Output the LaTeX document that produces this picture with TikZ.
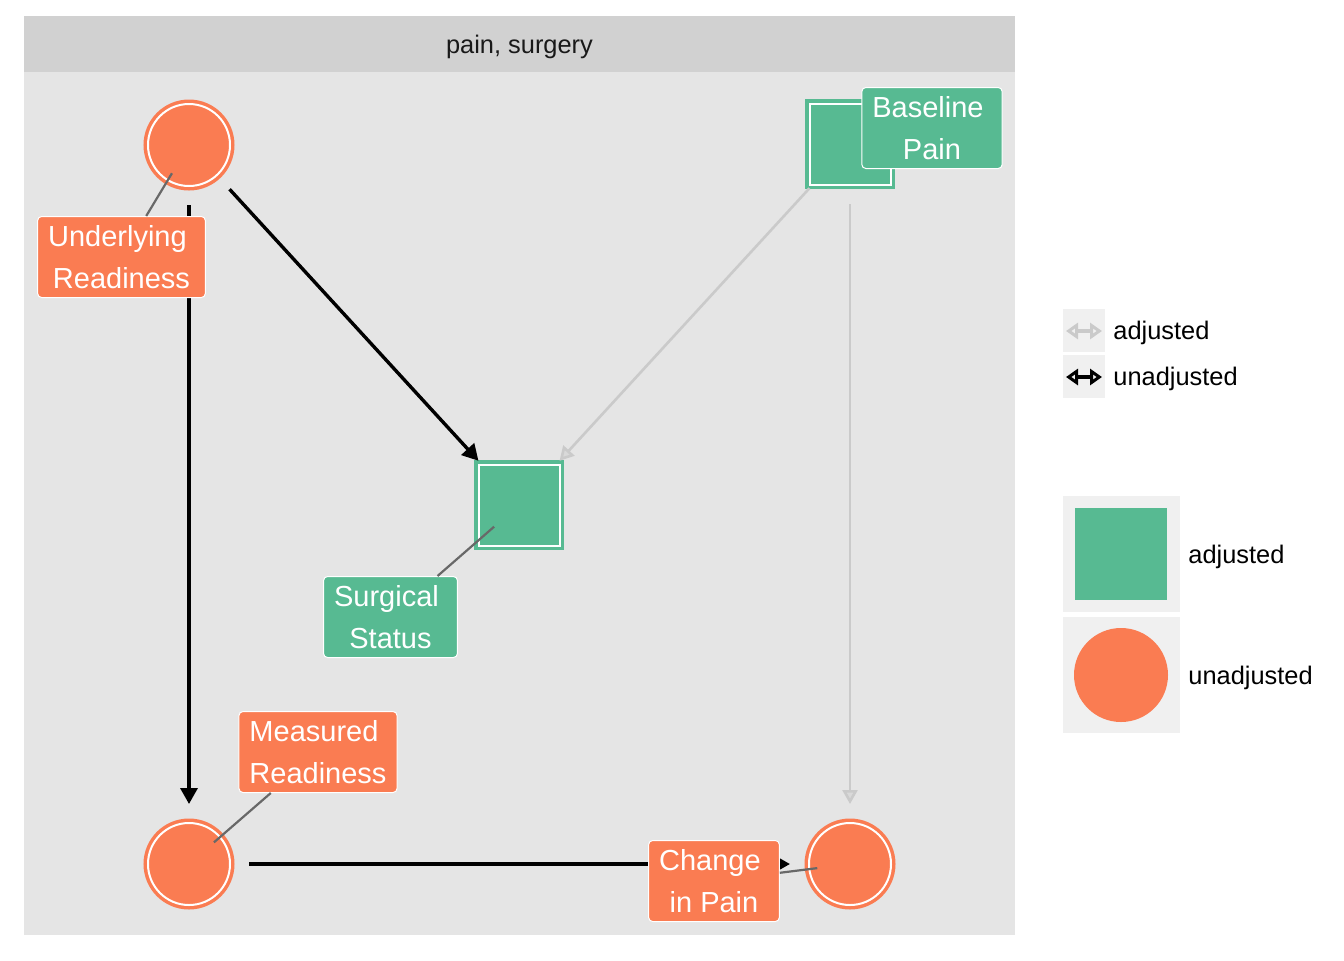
\documentclass[tikz,border=0pt]{standalone}
\usepackage{fontspec}
\setmainfont{Liberation Sans}
\usepackage{tikz}
\usetikzlibrary{arrows.meta}

\definecolor{dagorange}{HTML}{FA7C52}
\definecolor{daggreen}{HTML}{57BA92}
\definecolor{panelgray}{HTML}{E5E5E5}
\definecolor{stripgray}{HTML}{D1D1D1}
\definecolor{keygray}{HTML}{F0F0F0}
\definecolor{adjline}{HTML}{CACACA}
\definecolor{adjtip}{HTML}{D9D9D9}
\definecolor{leadgray}{HTML}{686868}

\tikzset{
  unadjnode/.style={circle, minimum size=41pt, inner sep=0pt, fill=dagorange, draw=white, line width=1pt,
    preaction={draw=dagorange, line width=4.5pt}},
  adjnode/.style={rectangle, minimum size=40.5pt, inner sep=0pt, fill=daggreen, draw=white, line width=1pt,
    preaction={draw=daggreen, line width=4.5pt}},
  unadjedge/.style={black, line width=1.7pt, shorten >=30pt, shorten <=30pt,
    -{Triangle[length=8pt,width=8.5pt]}},
  adjedge/.style={adjline, line width=1.3pt, shorten >=30pt, shorten <=30pt,
    -{Triangle[length=7pt,width=7.5pt,fill=adjtip]}},
  daglabel/.style={rounded corners=2pt, draw=white, line width=0.5pt, text=white, align=center,
    inner xsep=5.25pt, inner ysep=2pt, minimum height=40.5pt, font=\fontsize{14.5}{21}\selectfont},
  leader/.style={leadgray, line width=1.1pt, shorten >=16.5pt},
  legtext/.style={anchor=west, inner sep=0pt, font=\fontsize{12.7}{15}\selectfont},
  legarrow/.style={line width=1.6pt, {Triangle[open,length=6pt,width=8pt]}-{Triangle[open,length=6pt,width=8pt]}}
}

\begin{document}
\begin{tikzpicture}[x=0.5pt,y=-0.5pt]
  \useasboundingbox (0,0) rectangle (1344,960);
  % panel and strip
  \fill[panelgray] (24,72) rectangle (1015,935);
  \fill[stripgray] (24,16) rectangle (1015,72);
  \node[inner sep=0pt, text={black!90}, font=\fontsize{12.7}{15}\selectfont] (strip) at (519.5,47) {pain, surgery};

  % nodes
  \node[unadjnode] (ur) at (189,145) {};
  \node[adjnode] (bp) at (850,144) {};
  \node[adjnode] (ss) at (519,505) {};
  \node[unadjnode] (mr) at (189,864) {};
  \node[unadjnode] (cp) at (850,864) {};

  % edges
  \draw[unadjedge] (ur.center) -- (mr.center);
  \draw[unadjedge] (ur.center) -- (ss.center);
  \draw[unadjedge] (mr.center) -- (cp.center);
  \draw[adjedge] (bp.center) -- (ss.center);
  \draw[adjedge] (bp.center) -- (cp.center);

  % labels
  \node[daglabel, fill=dagorange] (urlab) at (121.5,257) {Underlying\kern.278em\\Readiness};
  \node[daglabel, fill=daggreen] (bplab) at (932,128) {Baseline\kern.278em\\Pain};
  \node[daglabel, fill=daggreen] (sslab) at (390.5,617) {Surgical\kern.278em\\Status};
  \node[daglabel, fill=dagorange] (mrlab) at (318,752) {Measured\kern.278em\\Readiness};
  \node[daglabel, fill=dagorange] (cplab) at (714,881) {Change\kern.278em\\in Pain};
  \draw[leader] (urlab) -- (ur.center);
  \draw[leader] (sslab) -- (ss.center);
  \draw[leader] (mrlab) -- (mr.center);
  \draw[leader] (cplab) -- (cp.center);

  % legend: edges
  \fill[keygray] (1063,309) rectangle (1105,352);
  \fill[keygray] (1063,355) rectangle (1105,398);
  \coordinate (ka1) at (1066,331);
  \coordinate (ka2) at (1102,331);
  \coordinate (ku1) at (1066,377);
  \coordinate (ku2) at (1102,377);
  \draw[legarrow, adjline] (ka1) -- (ka2);
  \draw[legarrow, black] (ku1) -- (ku2);
  \node[legtext] (ladj) at (1113,333) {adjusted};
  \node[legtext] (lunadj) at (1113,379) {unadjusted};

  % legend: nodes
  \fill[keygray] (1063,496) rectangle (1180,612);
  \fill[keygray] (1063,617) rectangle (1180,733);
  \fill[daggreen] (1075,508) rectangle (1167,600);
  \fill[dagorange] (1121,675) circle (23.5pt);
  \node[legtext] (nadj) at (1188,557) {adjusted};
  \node[legtext] (nunadj) at (1188,678) {unadjusted};
\end{tikzpicture}
\end{document}
